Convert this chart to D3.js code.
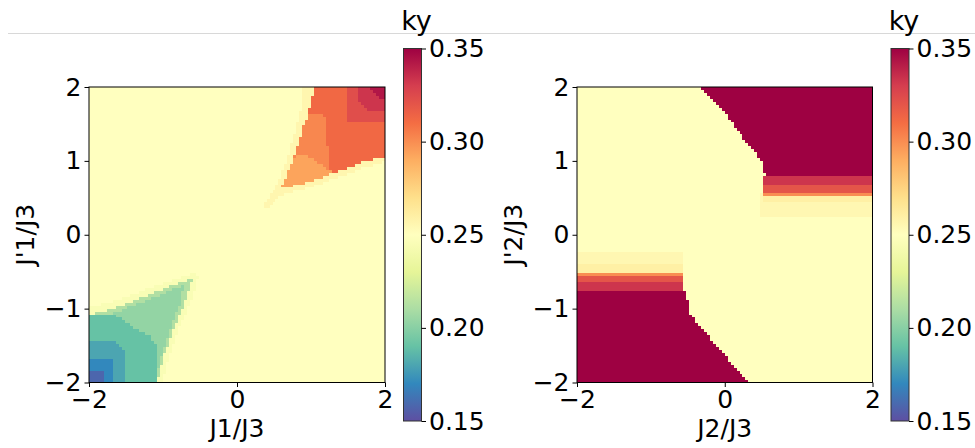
<!DOCTYPE html>
<html><head><meta charset="utf-8">
<script src="https://cdn.jsdelivr.net/npm/d3@7"></script>
<style>
body{margin:0;background:#fff;}
svg{display:block;}
text{font-family:"DejaVu Sans",sans-serif;fill:#000;}
</style>
</head><body>
<svg id="chart" width="975" height="448"></svg>
<script>
// ---------- data ----------
const yTickValues = [-2, -1, 0, 1, 2];
const xTickValues = [-2, 0, 2];
const colorTickValues = [0.15, 0.20, 0.25, 0.30, 0.35];
const colorDomain = [0.15, 0.35];
// matplotlib "Spectral" (ColorBrewer 11) – used reversed (Spectral_r)
const spectralColors = ["#9e0142","#d53e4f","#f46d43","#fdae61","#fee08b","#ffffbf","#e6f598","#abdda4","#66c2a5","#3288bd","#5e4fa2"];
const gridSize = 100;
const backgroundValue = 0.25;
const leftAxisLabels = ["J1/J3", "J'1/J3"];
const rightAxisLabels = ["J2/J3", "J'2/J3"];
const colorbarTitle = "ky";

// ----- left panel (J1/J3, J'1/J3): region outlines in data coords, value ky -----
const L_orangeHalo = [[0.9,2],[1.05,2],[0.96,1.64],[0.87,1.37],[0.76,1.0],[0.67,0.76],[0.60,0.62],[0.90,0.70],[1.2,0.80],[1.5,0.91],[1.75,1.0],[2,1.06],[2,0.99],[1.75,0.92],[1.5,0.83],[1.2,0.72],[0.9,0.62],[0.6,0.52],[0.4,0.34],[0.34,0.37],[0.5,0.6],[0.62,0.86],[0.72,1.15],[0.8,1.45],[0.88,1.75]];
const L_orangeBody = [[1.05,2],[2,2],[2,1.06],[1.75,1.0],[1.5,0.91],[1.2,0.80],[0.90,0.70],[0.60,0.62],[0.67,0.76],[0.76,1.0],[0.87,1.37],[0.96,1.64]];
const L_orangeMid = [[0.96,1.64],[1.18,1.62],[1.2,1.3],[1.26,1.0],[1.25,0.83],[0.95,1.05],[0.8,1.08],[0.76,1.0],[0.87,1.37]];
const L_peach = [[0.60,0.62],[0.72,0.92],[0.80,1.1],[0.95,1.07],[1.1,0.97],[1.28,0.85],[1.2,0.80],[0.90,0.70]];
const L_crimson = [[1.5,2],[2,2],[2,1.54],[1.5,1.54]];
const L_crimsonDark = [[1.66,2],[2,2],[2,1.68],[1.78,1.68],[1.66,1.82]];
const L_maroon = [[1.8,2],[2,2],[2,1.84],[1.9,1.86]];
const L_greenHalo = [[-2,-0.98],[-1.6,-0.88],[-1.15,-0.71],[-0.57,-0.51],[-0.53,-0.57],[-0.61,-0.85],[-0.8,-1.3],[-0.93,-1.67],[-1.01,-2],[-1.08,-2],[-1.0,-1.67],[-0.87,-1.31],[-0.69,-0.855],[-0.60,-0.585],[-1.14,-0.79],[-1.59,-0.97],[-2,-1.08]];
const L_greenLight = [[-2,-1.08],[-1.59,-0.97],[-1.14,-0.79],[-0.60,-0.585],[-0.69,-0.855],[-0.87,-1.31],[-1.0,-1.67],[-1.08,-2],[-2,-2]];
const L_greenMid = [[-1.8,-1.1],[-1.3,-0.92],[-0.72,-0.68],[-0.77,-0.93],[-0.92,-1.32],[-1.04,-1.7],[-1.1,-2],[-2,-2]];
const L_teal = [[-2,-1.1],[-1.716,-1.063],[-1.536,-1.153],[-1.40,-1.266],[-1.176,-1.378],[-1.086,-1.514],[-1.08,-2],[-2,-2]];
const L_tealBlue = [[-2,-1.44],[-1.66,-1.44],[-1.52,-1.6],[-1.5,-2],[-2,-2]];
const L_blue = [[-2,-1.67],[-1.66,-1.67],[-1.66,-2],[-2,-2]];
const L_navy = [[-2,-1.82],[-1.8,-1.82],[-1.78,-2],[-2,-2]];
const leftRegions = [
  [L_orangeHalo, 0.256], [L_orangeBody, 0.312], [L_orangeMid, 0.302], [L_peach, 0.293],
  [L_crimson, 0.323], [L_crimsonDark, 0.333], [L_maroon, 0.343],
  [L_greenHalo, 0.245], [L_greenLight, 0.212], [L_greenMid, 0.203], [L_teal, 0.19],
  [L_tealBlue, 0.18], [L_blue, 0.17], [L_navy, 0.158]
];

// ----- right panel (J2/J3, J'2/J3) -----
const R_topHaloOuter = [[0.5,0.56],[2,0.56],[2,0.25],[0.5,0.25]];
const R_topHaloInner = [[0.52,0.56],[2,0.56],[2,0.45],[0.52,0.45]];
const R_topOrange = [[0.51,0.575],[2,0.575],[2,0.54],[0.51,0.54]];
const R_topRedOrange = [[0.51,0.70],[2,0.70],[2,0.575],[0.51,0.575]];
const R_topCrimson = [[0.51,0.80],[2,0.80],[2,0.70],[0.51,0.70]];
const R_topMaroon = [[-0.33,2],[2,2],[2,0.80],[0.55,0.80],[0.53,0.90],[0.50,1.01],[0.345,1.19],[0.165,1.414],[0.016,1.64],[-0.20,1.865]];
const R_botHaloOuter = [[-2,-0.5],[-0.54,-0.5],[-0.54,-0.22],[-2,-0.22]];
const R_botHaloInner = [[-2,-0.51],[-0.56,-0.51],[-0.56,-0.41],[-2,-0.41]];
const R_botOrange = [[-2,-0.56],[-0.54,-0.56],[-0.54,-0.51],[-2,-0.51]];
const R_botRedOrange = [[-2,-0.65],[-0.54,-0.65],[-0.54,-0.56],[-2,-0.56]];
const R_botCrimson = [[-2,-0.74],[-0.54,-0.74],[-0.54,-0.65],[-2,-0.65]];
const R_botMaroon = [[-2,-0.74],[-0.534,-0.74],[-0.51,-0.838],[-0.467,-1.063],[-0.377,-1.198],[-0.286,-1.288],[-0.151,-1.468],[-0.016,-1.604],[0.12,-1.784],[0.21,-1.874],[0.32,-2],[-2,-2]];
const rightRegions = [
  [R_topHaloOuter, 0.255], [R_topHaloInner, 0.26], [R_topOrange, 0.30], [R_topRedOrange, 0.32], [R_topCrimson, 0.333], [R_topMaroon, 0.352],
  [R_botHaloOuter, 0.255], [R_botHaloInner, 0.26], [R_botOrange, 0.30], [R_botRedOrange, 0.32], [R_botCrimson, 0.333], [R_botMaroon, 0.352]
];

// ---------- drawing ----------
const svg = d3.select("#chart");
const cmapRange = spectralColors.slice().reverse();
const color = d3.scaleLinear()
  .domain(d3.range(cmapRange.length).map(i => colorDomain[0] + i * (colorDomain[1] - colorDomain[0]) / (cmapRange.length - 1)))
  .range(cmapRange).interpolate(d3.interpolateRgb).clamp(true);

// page separator line
svg.append("line").attr("x1", 8).attr("x2", 975).attr("y1", 33.5).attr("y2", 33.5)
  .attr("stroke", "#d8d8d8").attr("stroke-width", 1);

// gradient for colorbars
const grad = svg.append("defs").append("linearGradient").attr("id", "cmap")
  .attr("x1", 0).attr("y1", 1).attr("x2", 0).attr("y2", 0);
cmapRange.forEach((c, i) => grad.append("stop").attr("offset", i / (cmapRange.length - 1)).attr("stop-color", c));

const FS = 25;

function valueAt(regions, px, py) {
  let v = backgroundValue;
  for (const [poly, val] of regions) if (d3.polygonContains(poly, [px, py])) v = val;
  return v;
}

function panel(opts) {
  const {x0, x1, y0, y1, cbX0, cbX1, cbY0, cbY1, regions, labels, ylabelX} = opts;
  const x = d3.scaleLinear().domain([-2, 2]).range([x0, x1]);
  const y = d3.scaleLinear().domain([-2, 2]).range([y1, y0]);
  const step = 4 / gridSize;
  const cells = [];
  for (let j = 0; j < gridSize; j++) for (let i = 0; i < gridSize; i++) {
    const cx = -2 + (i + 0.5) * step, cy = -2 + (j + 0.5) * step;
    cells.push({xa: -2 + i * step, xb: -2 + (i + 1) * step, ya: -2 + j * step, yb: -2 + (j + 1) * step, v: valueAt(regions, cx, cy)});
  }
  const g = svg.append("g").attr("shape-rendering", "crispEdges");
  g.selectAll("rect").data(cells).join("rect")
    .attr("x", d => Math.round(x(d.xa))).attr("y", d => Math.round(y(d.yb)))
    .attr("width", d => Math.round(x(d.xb)) - Math.round(x(d.xa)))
    .attr("height", d => Math.round(y(d.ya)) - Math.round(y(d.yb)))
    .attr("fill", d => color(d.v));
  // frame
  svg.append("rect").attr("x", x0).attr("y", y0).attr("width", x1 - x0).attr("height", y1 - y0)
    .attr("fill", "none").attr("stroke", "#000").attr("stroke-width", 1);
  // axes
  const ax = svg.append("g").attr("transform", `translate(0,${y1})`)
    .call(d3.axisBottom(x).tickValues(xTickValues).tickSize(4.5).tickPadding(3).tickFormat(d3.format("d")));
  const ay = svg.append("g").attr("transform", `translate(${x0},0)`)
    .call(d3.axisLeft(y).tickValues(yTickValues).tickSize(4.5).tickPadding(3).tickFormat(d3.format("d")));
  [ax, ay].forEach(a => {
    a.select(".domain").remove();
    a.selectAll("text").attr("font-size", FS).attr("font-family", "DejaVu Sans").attr("fill", "#000");
    a.selectAll("line").attr("stroke", "#000");
  });
  svg.append("text").attr("x", (x0 + x1) / 2).attr("y", 437).attr("text-anchor", "middle")
    .attr("font-size", FS).text(labels[0]);
  svg.append("text").attr("transform", `translate(${ylabelX},${(y0 + y1) / 2}) rotate(-90)`)
    .attr("text-anchor", "middle").attr("dy", "0.35em").attr("font-size", FS).text(labels[1]);
  // colorbar
  const cb = d3.scaleLinear().domain(colorDomain).range([cbY1, cbY0]);
  svg.append("rect").attr("x", cbX0).attr("y", cbY0).attr("width", cbX1 - cbX0).attr("height", cbY1 - cbY0)
    .attr("fill", "url(#cmap)").attr("stroke", "#333").attr("stroke-width", 1);
  const ac = svg.append("g").attr("transform", `translate(${cbX1},0)`)
    .call(d3.axisRight(cb).tickValues(colorTickValues).tickSize(4.5).tickPadding(3).tickFormat(d3.format(".2f")));
  ac.select(".domain").remove();
  ac.selectAll("text").attr("font-size", FS).attr("font-family", "DejaVu Sans").attr("fill", "#000");
  ac.selectAll("line").attr("stroke", "#000");
  svg.append("text").attr("x", (cbX0 + cbX1) / 2 + 4).attr("y", 29.5).attr("text-anchor", "middle")
    .attr("font-size", 27).text(colorbarTitle);
}

panel({x0: 89, x1: 385, y0: 87, y1: 382.5, cbX0: 403.5, cbX1: 421.5, cbY0: 48.5, cbY1: 421,
  regions: leftRegions, labels: leftAxisLabels, ylabelX: 25});
panel({x0: 577, x1: 872.5, y0: 87, y1: 382.5, cbX0: 891, cbX1: 909, cbY0: 48.5, cbY1: 421,
  regions: rightRegions, labels: rightAxisLabels, ylabelX: 513});
</script>
</body></html>
